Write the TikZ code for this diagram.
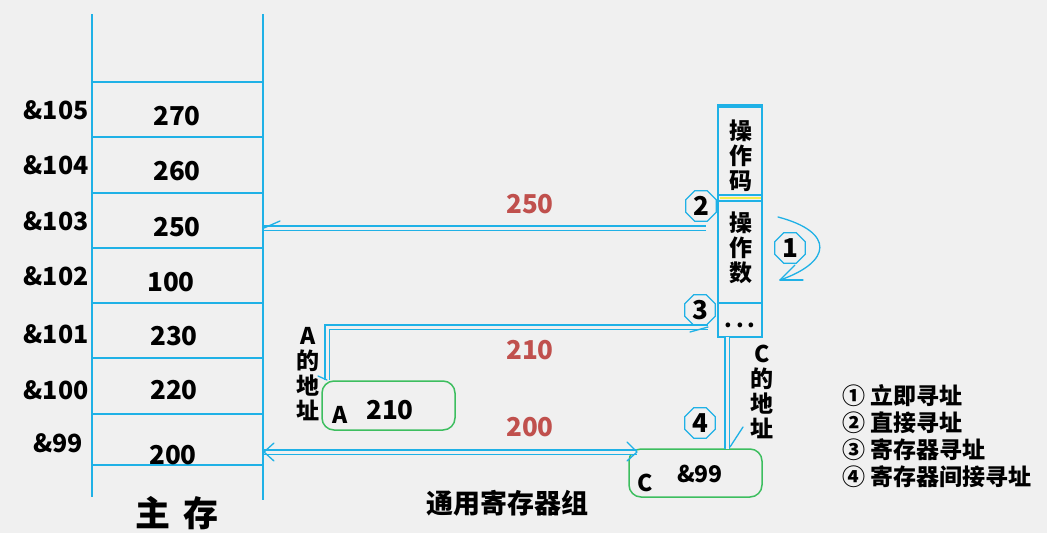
\documentclass[tikz,border=0pt]{standalone}
\usepackage{fontspec}
\setmainfont{Noto Sans CJK SC}
\usetikzlibrary{shapes.geometric}
\definecolor{bg}{HTML}{F0F0F0}
\definecolor{cy}{HTML}{1FB1E6}
\definecolor{rd}{HTML}{C0504D}
\definecolor{gr}{HTML}{3DBE5F}
\definecolor{yl}{HTML}{F2EE4A}
\begin{document}
\begin{tikzpicture}[x=1pt,y=-1pt,
  ln/.style={draw=cy, line width=1.6pt},
  dbl/.style={draw=cy, line width=1.1pt, double=bg, double distance=3pt},
  barb/.style={draw=cy, line width=1.3pt, line cap=round},
  adr/.style={font=\fontsize{25}{27}\selectfont\bfseries, inner sep=0pt},
  val/.style={font=\fontsize{26}{28}\selectfont\bfseries, inner sep=0pt},
  redv/.style={val, text=rd},
  numoct/.style={draw=cy, line width=1.3pt, regular polygon, regular polygon sides=8, minimum size=33pt, inner sep=0pt, font=\fontsize{26}{26}\selectfont\bfseries},
  gbox/.style={draw=gr, line width=1.5pt, rounded corners=12pt},
  vt/.style={font=\fontsize{23}{25}\selectfont\bfseries, align=center, inner sep=0pt},
]
\fill[bg] (0,0) rectangle (1047,533);
\useasboundingbox (0,0) rectangle (1047,533);

% main memory
\draw[ln] (92,14) -- (92,497);
\draw[ln] (263,14) -- (263,500);
\foreach \yy in {82,137,193,248,303,358,414,465}
  \draw[ln] (92,\yy) -- (263,\yy);
\node[val] (v270) at (177,116) {270};
\node[val] (v260) at (177,171) {260};
\node[val] (v250) at (177,227) {250};
\node[val] (v100) at (171,282) {100};
\node[val] (v230) at (174,336) {230};
\node[val] (v220) at (174,390) {220};
\node[val] (v200) at (173,455) {200};
\node[adr] (a105) at (56,110) {\&105};
\node[adr] (a104) at (56,165) {\&104};
\node[adr] (a103) at (56,221) {\&103};
\node[adr] (a102) at (56,276) {\&102};
\node[adr] (a101) at (56,334) {\&101};
\node[adr] (a100) at (56,390) {\&100};
\node[adr] (a99)  at (58,443) {\&99};
\node[font=\fontsize{35}{36}\selectfont\bfseries, inner sep=0pt] (zc) at (177,513) {主\hspace{13pt}存};

% instruction
\coordinate (memR2) at (264,228);
\coordinate (memR4) at (264,452);
\draw[ln] (718,105) rectangle (762,337);
\draw[cy, line width=3pt] (718,106) -- (762,106);
\draw[ln] (718,195) -- (762,195);
\draw[yl, line width=2.5pt] (719.5,198) -- (760.5,198);
\draw[ln] (718,201) -- (762,201);
\draw[ln] (718,303) -- (762,303);
\node[vt] (opc) at (741,156) {操\\作\\码};
\node[vt] (opd) at (741,248) {操\\作\\数};
\node[font=\fontsize{22}{22}\selectfont\bfseries, inner sep=0pt] (dots) at (740,325) {.\,.\,.};
\coordinate (insL2) at (706,228);
\coordinate (insL3) at (708,327);
\coordinate (insB) at (727,337);

% registers
\node[gbox, minimum width=133pt, minimum height=49pt] (ra) at (388.5,405.5) {};
\node[font=\fontsize{23}{23}\selectfont\bfseries, inner sep=0pt] (raA) at (340,415) {A};
\node[val] (ra210) at (390,410) {210};
\node[gbox, minimum width=133pt, minimum height=48pt] (rc) at (695.5,473) {};
\node[font=\fontsize{23}{23}\selectfont\bfseries, inner sep=0pt] (rcC) at (645,483) {C};
\node[font=\fontsize{23}{23}\selectfont\bfseries, inner sep=0pt] (rc99) at (700,474) {\&99};
\node[font=\fontsize{27}{28}\selectfont\bfseries, inner sep=0pt] (tyg) at (507,503) {通用寄存器组};

% arrow 2 (direct)
\draw[dbl] (insL2) -- (memR2);
\draw[barb] (memR2) -- ++(16,-7);
\node[redv] (r250) at (530,204) {250};
\node[numoct] (n2) at (701,206) {2};

% arrow 3 (register)
\coordinate (a3s) at (327,380);
\draw[dbl] (a3s) -- (327,327) -- (insL3);
\draw[barb] (insL3) -- ++(-18,5);
\draw[barb] (a3s) -- ++(-9,-4);
\node[redv] (r210) at (530,350) {210};
\node[numoct] (n3) at (700,310) {3};
\node[vt] (aaddr) at (308,374) {A\\的\\地\\址};

% arrow 4 (register indirect)
\coordinate (a4e) at (727,449);
\draw[dbl] (insB) -- (a4e);
\draw[barb] (730,447) -- (743,427);
\node[numoct] (n4) at (700,423) {4};
\node[vt] (caddr) at (762,392) {C\\的\\地\\址};

% arrow 200
\coordinate (a200r) at (637,452);
\draw[dbl] (memR4) -- (a200r);
\draw[barb] (memR4) -- ++(10,-9);
\draw[barb] (memR4) -- ++(10,9);
\draw[barb] (a200r) -- ++(-10,-10);
\draw[barb] (a200r) -- ++(-10,9);
\node[redv] (r200) at (530,427) {200};

% immediate
\node[numoct] (n1) at (790,248) {1};
\coordinate (c1s) at (778,217);
\coordinate (c1e) at (780,280);
\draw[barb] (c1s) .. controls (835,232) and (832,262) .. (c1e);
\draw[barb] (c1e) -- ++(23,0);
\draw[barb] (c1e) -- ++(15,-15);

% legend
\node[font=\fontsize{23}{27}\selectfont\bfseries, align=left, anchor=north west, inner sep=0pt] (leg) at (842,384)
 {① 立即寻址\\② 直接寻址\\③ 寄存器寻址\\④ 寄存器间接寻址};
\end{tikzpicture}
\end{document}
